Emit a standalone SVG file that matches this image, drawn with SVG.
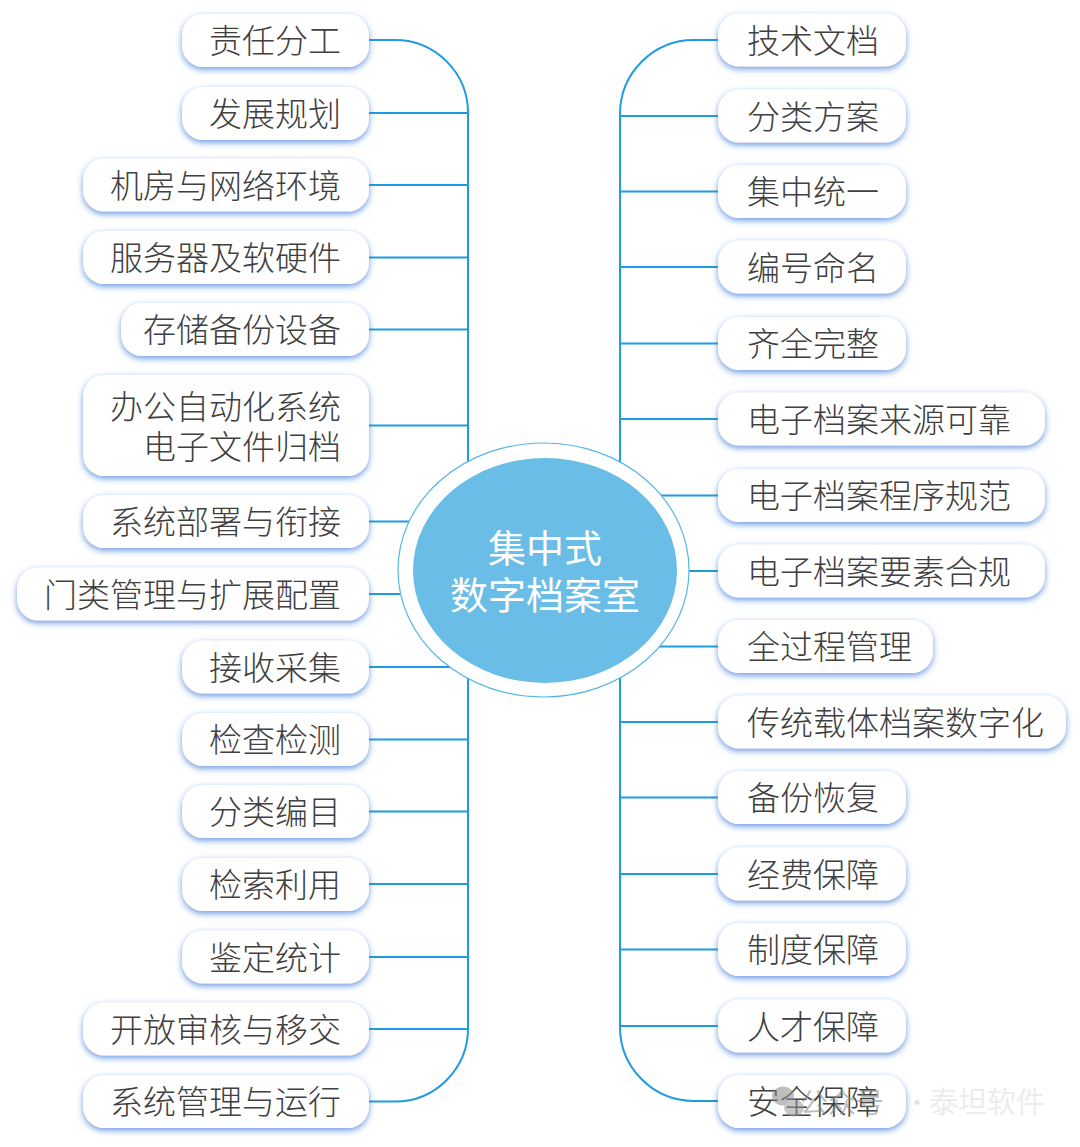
<svg xmlns="http://www.w3.org/2000/svg" width="1080" height="1147" viewBox="0 0 1080 1147">
<defs>
<filter id="glow" x="-20%" y="-40%" width="140%" height="190%">
<feDropShadow dx="0" dy="2.5" stdDeviation="3.4" flood-color="#3a78d8" flood-opacity="0.75"/>
</filter>
<style>
.box{fill:#ffffff;filter:url(#glow)}
.t{font-family:"Noto Sans CJK SC","Noto Sans",sans-serif;font-size:33px;font-weight:300;fill:#404040}
.l{text-anchor:end}
.c{fill:none;stroke:#1e9be3;stroke-width:2}
.ct{font-family:"Noto Sans CJK SC",sans-serif;font-size:38px;fill:#ffffff;text-anchor:middle}
</style>
</defs>
<rect width="1080" height="1147" fill="#ffffff"/>
<g id="connectors">
<path class="c" d="M369,40 H395 A73,73 0 0 1 468,113 V1028 A73,73 0 0 1 395,1101.5 H369"/>
<path class="c" d="M369,113 H468 M369,185 H468 M369,257.5 H468 M369,329.5 H468 M369,425.5 H468 M369,521.5 H545 M369,594 H545 M369,667 H545 M369,739.5 H468 M369,811.5 H468 M369,884 H468 M369,957 H468 M369,1029 H468"/>
<path class="c" d="M718,40 H694 A74,74 0 0 0 620,114 V1027 A74,74 0 0 0 694,1101 H718"/>
<path class="c" d="M620,116 H718 M620,191.5 H718 M620,267 H718 M620,343.5 H718 M620,419 H718 M545,495.5 H718 M545,571 H718 M545,646.5 H718 M620,722 H718 M620,797.5 H718 M620,874 H718 M620,949.5 H718 M620,1026 H718"/>
</g>
<g id="center">
<ellipse cx="543.5" cy="570" rx="145.5" ry="127" fill="#ffffff" stroke="#56b6ea" stroke-width="1.2"/>
<ellipse cx="545" cy="570.5" rx="132" ry="112.5" fill="#6abde6"/>
<text class="ct" x="545" y="562">集中式</text>
<text class="ct" x="545" y="609">数字档案室</text>
</g>
<g id="n-l1"><rect class="box" x="182" y="14" width="187" height="53" rx="21"/><text class="t l" x="341" y="52.5">责任分工</text></g>
<g id="n-l2"><rect class="box" x="182" y="87" width="187" height="53" rx="21"/><text class="t l" x="341" y="125.5">发展规划</text></g>
<g id="n-l3"><rect class="box" x="83" y="158.5" width="286" height="53" rx="21"/><text class="t l" x="341" y="197.5">机房与网络环境</text></g>
<g id="n-l4"><rect class="box" x="83" y="231" width="286" height="53" rx="21"/><text class="t l" x="341" y="270">服务器及软硬件</text></g>
<g id="n-l5"><rect class="box" x="121" y="303" width="248" height="53" rx="21"/><text class="t l" x="341" y="342">存储备份设备</text></g>
<g id="n-l6"><rect class="box" x="83" y="375" width="286" height="101" rx="21"/><text class="t l" x="341" y="418.5">办公自动化系统</text><text class="t l" x="341" y="458.5">电子文件归档</text></g>
<g id="n-l7"><rect class="box" x="83" y="495" width="286" height="53" rx="21"/><text class="t l" x="341" y="534">系统部署与衔接</text></g>
<g id="n-l8"><rect class="box" x="17" y="567.5" width="352" height="53" rx="21"/><text class="t l" x="341" y="606.5">门类管理与扩展配置</text></g>
<g id="n-l9"><rect class="box" x="182" y="640.5" width="187" height="53" rx="21"/><text class="t l" x="341" y="679.5">接收采集</text></g>
<g id="n-l10"><rect class="box" x="182" y="713" width="187" height="53" rx="21"/><text class="t l" x="341" y="752">检查检测</text></g>
<g id="n-l11"><rect class="box" x="182" y="785" width="187" height="53" rx="21"/><text class="t l" x="341" y="824">分类编目</text></g>
<g id="n-l12"><rect class="box" x="182" y="858" width="187" height="53" rx="21"/><text class="t l" x="341" y="896.5">检索利用</text></g>
<g id="n-l13"><rect class="box" x="182" y="930.5" width="187" height="53" rx="21"/><text class="t l" x="341" y="969.5">鉴定统计</text></g>
<g id="n-l14"><rect class="box" x="83" y="1002.5" width="286" height="53" rx="21"/><text class="t l" x="341" y="1041.5">开放审核与移交</text></g>
<g id="n-l15"><rect class="box" x="83" y="1075" width="286" height="53" rx="21"/><text class="t l" x="341" y="1114">系统管理与运行</text></g>
<g id="n-r1"><rect class="box" x="718" y="13.5" width="188" height="53" rx="21"/><text class="t" x="747" y="52.5">技术文档</text></g>
<g id="n-r2"><rect class="box" x="718" y="89.5" width="188" height="53" rx="21"/><text class="t" x="747" y="128.5">分类方案</text></g>
<g id="n-r3"><rect class="box" x="718" y="165" width="188" height="53" rx="21"/><text class="t" x="747" y="204">集中统一</text></g>
<g id="n-r4"><rect class="box" x="718" y="240.5" width="188" height="53" rx="21"/><text class="t" x="747" y="279.5">编号命名</text></g>
<g id="n-r5"><rect class="box" x="718" y="317" width="188" height="53" rx="21"/><text class="t" x="747" y="356">齐全完整</text></g>
<g id="n-r6"><rect class="box" x="718" y="392.5" width="327" height="53" rx="21"/><text class="t" x="747" y="431.5">电子档案来源可靠</text></g>
<g id="n-r7"><rect class="box" x="718" y="469" width="327" height="53" rx="21"/><text class="t" x="747" y="508">电子档案程序规范</text></g>
<g id="n-r8"><rect class="box" x="718" y="544.5" width="327" height="53" rx="21"/><text class="t" x="747" y="583.5">电子档案要素合规</text></g>
<g id="n-r9"><rect class="box" x="718" y="620" width="215" height="53" rx="21"/><text class="t" x="747" y="659">全过程管理</text></g>
<g id="n-r10"><rect class="box" x="718" y="695.5" width="348" height="53" rx="21"/><text class="t" x="747" y="734.5">传统载体档案数字化</text></g>
<g id="n-r11"><rect class="box" x="718" y="771" width="188" height="53" rx="21"/><text class="t" x="747" y="810">备份恢复</text></g>
<g id="n-r12"><rect class="box" x="718" y="847.5" width="188" height="53" rx="21"/><text class="t" x="747" y="886.5">经费保障</text></g>
<g id="n-r13"><rect class="box" x="718" y="923" width="188" height="53" rx="21"/><text class="t" x="747" y="962">制度保障</text></g>
<g id="n-r14"><rect class="box" x="718" y="999.5" width="188" height="53" rx="21"/><text class="t" x="747" y="1038.5">人才保障</text></g>
<g id="n-r15"><rect class="box" x="718" y="1075" width="188" height="53" rx="21"/><text class="t" x="747" y="1113.5">安全保障</text></g>
<g id="watermark" opacity="0.55">
<ellipse cx="783" cy="1096" rx="11" ry="9.5" fill="#8a8a8a"/>
<ellipse cx="794" cy="1108" rx="10" ry="8.5" fill="#9a9a9a"/>
<text x="800" y="1113" font-family="Noto Sans CJK SC,sans-serif" font-size="28" fill="#8a8a8a">公众号</text>
<text x="905" y="1111" font-family="Noto Sans CJK SC,sans-serif" font-size="24" fill="#c8c8c8">·</text>
</g>
<text x="929" y="1113" font-family="Noto Sans CJK SC,sans-serif" font-size="29" fill="#ececec">泰坦软件</text>
</svg>
